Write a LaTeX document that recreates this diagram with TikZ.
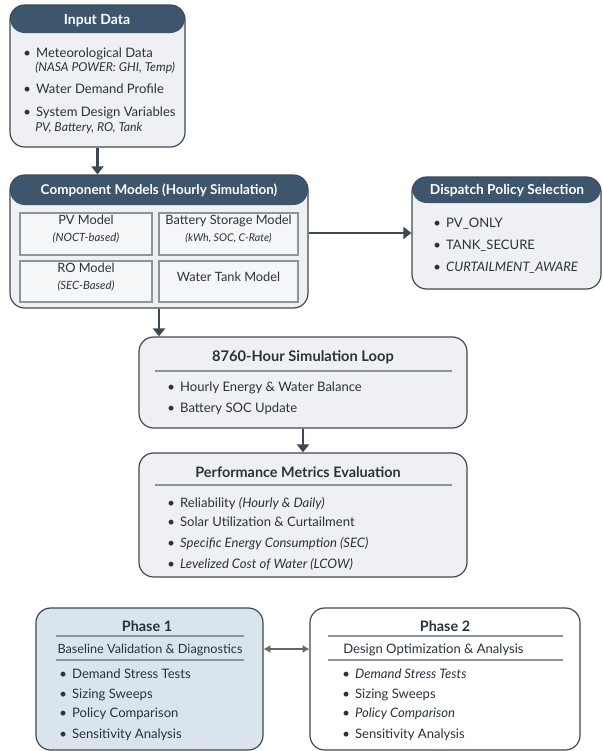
\documentclass[tikz,border=0pt]{standalone}
\usepackage{fontspec}
\setmainfont{Lato}
\usetikzlibrary{arrows.meta,fit,positioning}
\definecolor{headc}{HTML}{3E566D}
\definecolor{bodyc}{HTML}{EEF0F3}
\definecolor{linec}{HTML}{3F4851}
\definecolor{textc}{HTML}{2A323C}
\definecolor{innerc}{HTML}{F5F6F7}
\definecolor{rulec}{HTML}{8C949C}
\definecolor{phonec}{HTML}{D9E4ED}
\newcommand{\bul}{\textbullet\hspace{4pt}}
\tikzset{
    box/.style ={draw=linec, line width=0.9pt, rounded corners=11pt, fill=bodyc, inner sep=0pt},
    headbox/.style ={box, path picture={\fill[headc] (path picture bounding box.north west) rectangle ([yshift=-#1]path picture bounding box.north east);}},
    inner/.style ={draw=rulec, line width=0.8pt, fill=innerc, inner sep=0pt, align=center, text=textc, font=\fontsize{9.6}{13}\selectfont},
    head/.style ={text=white, font=\bfseries\fontsize{10.5}{12}\selectfont, inner sep=0pt},
    title/.style ={text=textc, font=\bfseries\fontsize{10.8}{13}\selectfont, inner sep=0pt},
    txt/.style ={anchor=west, text=textc, font=\fontsize{9.8}{11}\selectfont, inner sep=0pt, text height=1.5ex, text depth=.25ex},
    sub/.style ={text=textc, font=\fontsize{9.5}{11}\selectfont, inner sep=0pt, text height=1.5ex, text depth=.25ex},
    rule/.style ={draw=rulec, line width=0.8pt},
    arr/.style ={draw=linec, line width=2.2pt, -{Triangle[length=6pt,width=9pt]}},
    dbl/.style ={draw=gray!80!black, line width=1.6pt, {Latex[length=5pt,width=6pt]}-{Latex[length=5pt,width=6pt]}}
}
\begin{document}
\begin{tikzpicture}[x=0.75pt,y=-0.75pt]
    \useasboundingbox (0,0) rectangle (603,751);

    % input data
    \node[headbox=21pt, fit={(10,5) (185,147)}] (inp) {};
    \node[head] (inp-h) at (97,21) {Input Data};
    \node[txt] (inp-1) at (23,53) {\bul Meteorological Data};
    \node[txt, font=\itshape\fontsize{9.2}{11}\selectfont] (inp-1b) at (35,67) {(NASA POWER: GHI, Temp)};
    \node[txt] (inp-2) at (23,89) {\bul Water Demand Profile};
    \node[txt] (inp-3) at (23,112) {\bul System Design Variables};
    \node[txt, font=\itshape\fontsize{9.2}{11}\selectfont] (inp-3b) at (35,127) {PV, Battery, RO, Tank};

    % component models
    \node[headbox=22.5pt, fit={(10,175) (308,308)}] (comp) {};
    \node[head, font=\bfseries\fontsize{10.1}{12}\selectfont] (comp-h) at (159,190) {Component Models (Hourly Simulation)};
    \node[inner, fit={(20,213) (152,255)}] (pv) {PV Model\\{\itshape\fontsize{8.5}{10}\selectfont (NOCT-based)}};
    \node[inner, fit={(159,213) (298,255)}] (bat) {Battery Storage Model\\{\itshape\fontsize{8}{10}\selectfont (kWh, SOC, C-Rate)}};
    \node[inner, fit={(20,261) (152,302)}] (ro) {RO Model\\{\itshape\fontsize{8.5}{10}\selectfont (SEC-Based)}};
    \node[inner, fit={(159,261) (298,302)}] (tank) {Water Tank Model};

    % dispatch policy
    \node[headbox=19.5pt, fit={(412,177) (601,289)}] (disp) {};
    \node[head, font=\bfseries\fontsize{10.3}{12}\selectfont] (disp-h) at (507,191) {Dispatch Policy Selection};
    \node[txt] (disp-1) at (433,223) {\bul PV\_ONLY};
    \node[txt] (disp-2) at (433,245) {\bul TANK\_SECURE};
    \node[txt] (disp-3) at (433,267) {\bul \itshape CURTAILMENT\_AWARE};

    % simulation loop
    \node[box, fit={(139,337) (467,428)}] (loop) {};
    \node[title, font=\bfseries\fontsize{11}{13}\selectfont] (loop-h) at (303,357) {8760-Hour Simulation Loop};
    \draw[rule] (155,371) -- (452,371);
    \node[txt] (loop-1) at (167,387) {\bul Hourly Energy \& Water Balance};
    \node[txt] (loop-2) at (167,408) {\bul Battery SOC Update};

    % metrics
    \node[box, fit={(139,453) (467,577)}] (perf) {};
    \node[title] (perf-h) at (298,472) {Performance Metrics Evaluation};
    \draw[rule] (155,485) -- (452,485);
    \node[txt] (perf-1) at (167,503) {\bul Reliability {\itshape (Hourly \& Daily)}};
    \node[txt] (perf-2) at (167,522) {\bul Solar Utilization \& Curtailment};
    \node[txt] (perf-3) at (167,543) {\bul {\itshape Specific Energy Consumption (SEC)}};
    \node[txt] (perf-4) at (167,564) {\bul {\itshape Levelized Cost of Water (LCOW)}};

    % phase 1
    \node[box, fill=phonec, fit={(36,608) (263,750)}] (ph1) {};
    \node[title] (ph1-h) at (147,626) {Phase 1};
    \draw[rule] (56,636) -- (244,636);
    \node[sub] (ph1-s) at (150,649) {Baseline Validation \& Diagnostics};
    \draw[rule] (56,660) -- (244,660);
    \node[txt] (ph1-1) at (59,674) {\bul Demand Stress Tests};
    \node[txt] (ph1-2) at (59,694) {\bul Sizing Sweeps};
    \node[txt] (ph1-3) at (59,713) {\bul Policy Comparison};
    \node[txt] (ph1-4) at (59,734) {\bul Sensitivity Analysis};

    % phase 2
    \node[box, fill=white, fit={(310,608) (580,750)}] (ph2) {};
    \node[title] (ph2-h) at (445,626) {Phase 2};
    \draw[rule] (328,636) -- (563,636);
    \node[txt] (ph2-s) at (343,649) {Design Optimization \& Analysis};
    \draw[rule] (328,660) -- (563,660);
    \node[txt] (ph2-1) at (342,674) {\bul {\itshape Demand Stress Tests}};
    \node[txt] (ph2-2) at (342,694) {\bul Sizing Sweeps};
    \node[txt] (ph2-3) at (342,713) {\bul {\itshape Policy Comparison}};
    \node[txt] (ph2-4) at (342,734) {\bul Sensitivity Analysis};

    \path[arr] (inp.south) -- (inp.south |- comp.north);
    \path[arr] (disp.west -| comp.east) -- (disp.west);
    \path[arr] (comp.south) -- (comp.south |- loop.north);
    \path[arr] (loop.south) -- (perf.north);
    \path[dbl] (ph1.east |- ph1-s) -- (ph2.west |- ph1-s);
\end{tikzpicture}
\end{document}
